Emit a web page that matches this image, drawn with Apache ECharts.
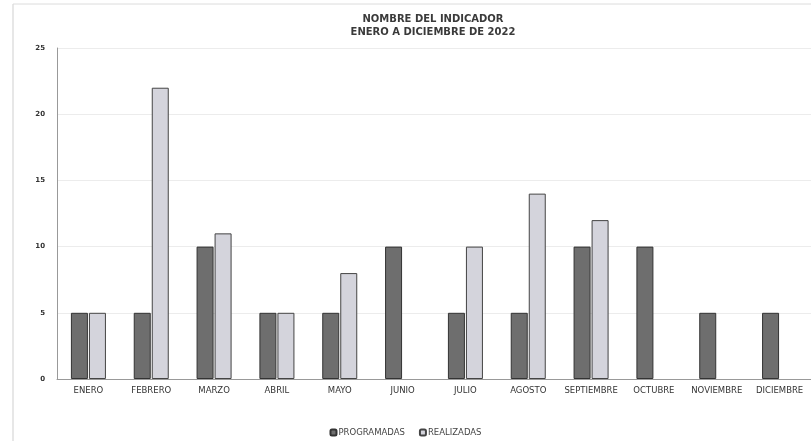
<!DOCTYPE html>
<html><head><meta charset="utf-8">
<script src="https://cdn.jsdelivr.net/npm/echarts@6/dist/echarts.min.js"></script>
<style>html,body{margin:0;padding:0;background:#fff}#c{width:811px;height:441px}</style>
</head><body><div id="c"></div>
<script>
const categories = ['ENERO','FEBRERO','MARZO','ABRIL','MAYO','JUNIO','JULIO','AGOSTO','SEPTIEMBRE','OCTUBRE','NOVIEMBRE','DICIEMBRE'];
const programadas = [5,5,10,5,5,10,5,5,10,10,5,5];
const realizadas = [5,22,11,5,8,null,10,14,12,null,null,null];
const yTicks = [0,5,10,15,20,25];

const chart = echarts.init(document.getElementById('c'));
chart.setOption({
  animation:false,
  backgroundColor:'#fff',
  title:{
    text:'NOMBRE DEL INDICADOR\nENERO A DICIEMBRE DE 2022',
    left:428, top:8, textAlign:'center',
    textStyle:{fontFamily:'DejaVu Sans', fontWeight:'bold', fontSize:10, color:'#3a3a3a', lineHeight:13}
  },
  legend:{
    data:['PROGRAMADAS','REALIZADAS'],
    left:'center', top:423, itemWidth:6, itemHeight:6, itemGap:14,
    textStyle:{fontFamily:'DejaVu Sans', fontSize:8.5, color:'#444', padding:[0,0,0,-3]}
  },
  graphic:[
    {type:'line', shape:{x1:13,y1:4,x2:13,y2:441}, style:{stroke:'#cfcfcf',lineWidth:1}},
    {type:'line', shape:{x1:13,y1:4,x2:811,y2:4}, style:{stroke:'#dcdcdc',lineWidth:1}}
  ],
  grid:{left:57, top:48, width:762, height:331},
  xAxis:{
    type:'category', data:categories,
    axisLine:{lineStyle:{color:'#999'}}, axisTick:{show:false},
    axisLabel:{fontFamily:'DejaVu Sans', fontSize:8.5, color:'#333', margin:7, interval:0}
  },
  yAxis:{
    type:'value', min:0, max:25, interval:5,
    axisLine:{show:true, lineStyle:{color:'#999'}}, axisTick:{show:false},
    splitLine:{lineStyle:{color:'#ececec'}},
    axisLabel:{fontFamily:'DejaVu Sans', fontWeight:'bold', fontSize:7, color:'#333', margin:12,
      formatter:v=>yTicks.includes(v)?String(v):''}
  },
  series:[
    {name:'PROGRAMADAS', type:'bar', data:programadas, barWidth:17, barGap:'6%',
     itemStyle:{color:'#6e6e6e', borderColor:'#333', borderWidth:1}},
    {name:'REALIZADAS', type:'bar', data:realizadas, barWidth:17,
     itemStyle:{color:'#d4d4dc', borderColor:'#444', borderWidth:1}}
  ]
});
</script></body></html>
